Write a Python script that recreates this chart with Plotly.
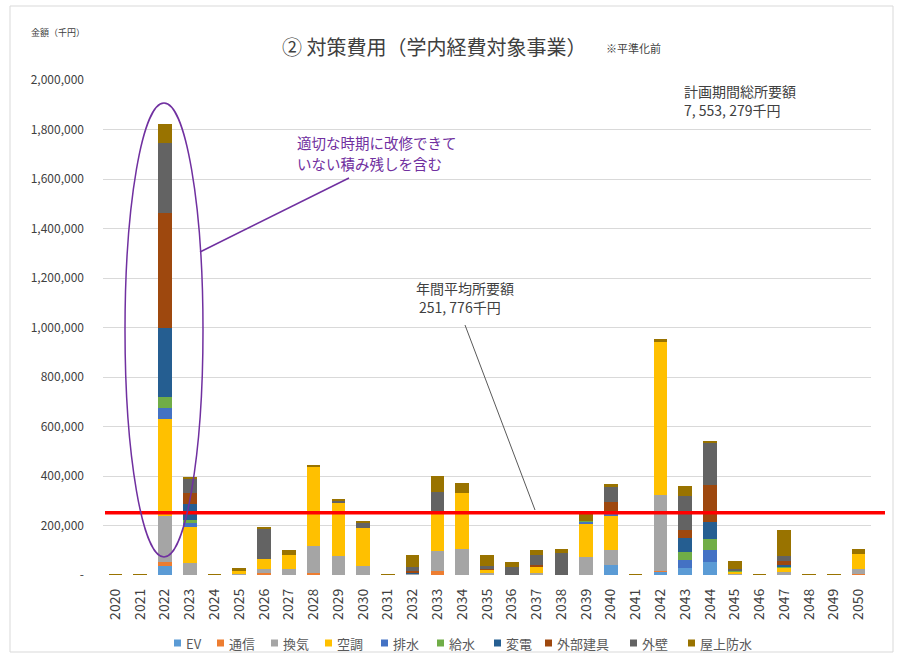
import plotly.graph_objects as go

years = list(range(2020, 2051))
series_names = ["EV", "通信", "換気", "空調", "排水", "給水", "変電", "外部建具", "外壁", "屋上防水"]
colors = ["#5B9BD5", "#ED7D31", "#A5A5A5", "#FFC000", "#4472C4", "#70AD47", "#255E91", "#9E480E", "#636363", "#997300"]

ev =      [0,0,38000,0,0,0,0,0,0,0,0,0,3000,0,0,0,0,0,0,0,40000,0,13000,27000,54000,0,0,0,0,0,0]
tsushin = [0,0,13000,0,0,0,10000,0,8000,2000,0,0,0,17000,0,0,0,0,0,0,0,0,3000,0,0,0,0,3000,0,0,3000]
kanki =   [0,0,189000,47000,0,3000,16000,24000,111000,76000,35000,0,3000,81000,105000,8000,0,10000,0,71000,62000,0,306000,0,0,6000,0,8000,0,0,20000]
kucho =   [0,0,389000,146000,0,12000,38000,57000,321000,212000,154000,0,0,162000,225000,13000,0,24000,0,135000,138000,0,621000,0,0,8000,0,20000,0,0,61000]
haisui =  [0,0,46000,17000,0,0,0,0,0,0,0,0,0,0,0,0,0,0,0,9000,7000,0,0,35000,47000,0,0,0,0,0,0]
kyusui =  [0,0,43000,13000,0,0,0,0,0,0,0,0,0,0,0,2000,0,0,0,4000,0,0,0,32000,45000,3000,0,4000,0,0,0]
henden =  [0,0,281000,63000,0,0,0,0,0,0,0,0,3000,0,0,0,0,0,0,0,0,0,0,54000,70000,3000,0,4000,0,0,0]
gaibu =   [0,0,463000,47000,0,0,0,0,0,0,0,0,8000,0,0,5000,0,8000,0,0,47000,0,0,35000,146000,0,0,19000,0,0,0]
gaiheki = [0,0,284000,57000,0,0,124000,0,0,11000,22000,0,17000,77000,0,8000,31000,40000,89000,0,63000,0,0,138000,173000,6000,0,20000,0,0,0]
okujo =   [3000,3000,75000,5000,3000,12000,6000,22000,6000,5000,5000,3000,46000,65000,40000,45000,20000,18000,16000,40000,11000,3000,12000,38000,6000,30000,3000,105000,3000,3000,20000]

values = [ev, tsushin, kanki, kucho, haisui, kyusui, henden, gaibu, gaiheki, okujo]

average = 251776
total_text = "7, 553, 279千円"
average_text = "251, 776千円"

ytick_vals = list(range(0, 2000001, 200000))
ytick_text = ["-" if v == 0 else f"{v:,}" for v in ytick_vals]

FONT = "Noto Sans CJK JP"

fig = go.Figure()
for name, col, vals in zip(series_names, colors, values):
    fig.add_trace(go.Bar(x=years, y=vals, name=name, marker=dict(color=col, line=dict(width=0)),
                         width=0.55, showlegend=False))

# pixel helpers for overlay placement
L, R, T, B = 103, 28, 80, 82
W, H = 899, 657
pw, ph = W - L - R, H - T - B
def px(x):
    return (x - L) / pw
def py(y):
    return (H - B - y) / ph

fig.update_layout(
    width=W, height=H,
    margin=dict(l=L, r=R, t=T, b=B, autoexpand=False),
    barmode="stack",
    plot_bgcolor="white", paper_bgcolor="white",
    font=dict(family=FONT, color="#595959", size=12),
    showlegend=False,
    xaxis=dict(range=[2019.5, 2050.5], tickmode="array", tickvals=years,
               ticktext=[str(y) for y in years], tickangle=-90,
               tickfont=dict(size=14, color="#404040"), showgrid=False, zeroline=False,
               showline=False, ticks="", automargin=False, ticklabelstandoff=10),
    yaxis=dict(range=[0, 2000000], tickmode="array", tickvals=ytick_vals, ticktext=ytick_text,
               tickfont=dict(size=12, color="#404040"), showgrid=True, gridcolor="#D9D9D9",
               gridwidth=1, zeroline=False, showline=False, ticks="", ticklabelstandoff=18,
               automargin=False),
)

shapes = []
# chart area border
shapes.append(dict(type="rect", xref="paper", yref="paper", x0=px(10), x1=px(893), y0=py(652), y1=py(6),
                   line=dict(color="#D9D9D9", width=1), fillcolor="rgba(0,0,0,0)", layer="below"))
# average line
shapes.append(dict(type="line", xref="paper", yref="y", x0=px(105), x1=px(885), y0=average, y1=average,
                   line=dict(color="#FF0000", width=3.5)))
# purple ellipse
shapes.append(dict(type="circle", xref="paper", yref="paper", x0=px(125), x1=px(203), y0=py(557), y1=py(103),
                   line=dict(color="#7030A0", width=1.5)))
# purple connector
shapes.append(dict(type="line", xref="paper", yref="paper", x0=px(200), y0=py(252), x1=px(349), y1=py(178),
                   line=dict(color="#7030A0", width=1.5)))
# grey connector
shapes.append(dict(type="line", xref="paper", yref="paper", x0=px(465), y0=py(325), x1=px(535), y1=py(510),
                   line=dict(color="#595959", width=1)))

ann = []
# custom legend (squares + labels)
legend_x = [174, 217, 271, 325, 381, 437, 494, 545, 630, 688]
legend_y = 643
for name, col, lx in zip(series_names, colors, legend_x):
    shapes.append(dict(type="rect", xref="paper", yref="paper", x0=px(lx), x1=px(lx + 7),
                       y0=py(legend_y + 3.5), y1=py(legend_y - 3.5), line=dict(width=0), fillcolor=col))
    ann.append(dict(text=name, xref="paper", yref="paper", x=px(lx + 10), y=py(legend_y),
                    xanchor="left", yanchor="middle", showarrow=False,
                    font=dict(size=13, color="#595959")))
fig.update_layout(shapes=shapes)

ann.append(dict(text="金額（千円）", xref="paper", yref="paper", x=px(29), y=py(32), xanchor="left",
                yanchor="middle", showarrow=False, font=dict(size=9, color="#404040")))
ann.append(dict(text="② 対策費用（学内経費対象事業）", xref="paper", yref="paper", x=px(434), y=py(46),
                xanchor="center", yanchor="middle", showarrow=False, font=dict(size=20, color="#404040")))
ann.append(dict(text="※平準化前", xref="paper", yref="paper", x=px(604), y=py(48), xanchor="left",
                yanchor="middle", showarrow=False, font=dict(size=11, color="#404040")))
ann.append(dict(text="計画期間総所要額", xref="paper", yref="paper", x=px(682), y=py(91), height=18,
                xanchor="left", yanchor="middle", showarrow=False, font=dict(size=14, color="#404040")))
ann.append(dict(text=total_text, xref="paper", yref="paper", x=px(682), y=py(110), height=18,
                xanchor="left", yanchor="middle", showarrow=False, font=dict(size=14, color="#404040")))
ann.append(dict(text="年間平均所要額", xref="paper", yref="paper", x=px(414), y=py(288), height=18,
                xanchor="left", yanchor="middle", showarrow=False, font=dict(size=14, color="#404040")))
ann.append(dict(text=average_text, xref="paper", yref="paper", x=px(417), y=py(307), height=18,
                xanchor="left", yanchor="middle", showarrow=False, font=dict(size=14, color="#404040")))
ann.append(dict(text="適切な時期に改修できて", xref="paper", yref="paper", x=px(295), y=py(142),
                xanchor="left", yanchor="middle", showarrow=False, font=dict(size=14.5, color="#7030A0")))
ann.append(dict(text="いない積み残しを含む", xref="paper", yref="paper", x=px(295), y=py(163),
                xanchor="left", yanchor="middle", showarrow=False, font=dict(size=14.5, color="#7030A0")))
fig.update_layout(annotations=ann)

fig.write_html("out.html")
